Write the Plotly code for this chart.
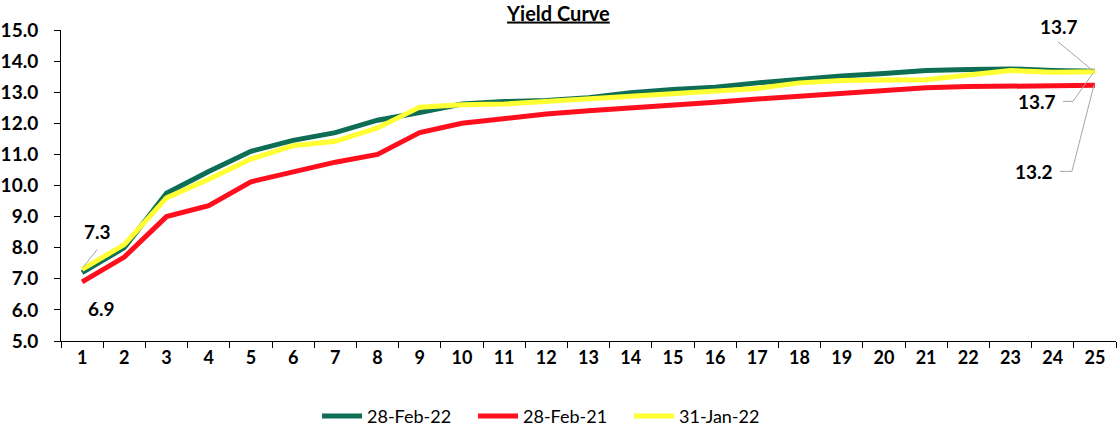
import plotly.graph_objects as go

tenor = [str(i) for i in range(1, 26)]
feb22 = [7.2, 8.0, 9.75, 10.45, 11.1, 11.45, 11.7, 12.1, 12.35, 12.62, 12.7, 12.73, 12.82, 12.98, 13.09,
         13.16, 13.3, 13.43, 13.52, 13.6, 13.7, 13.73, 13.75, 13.7, 13.67]
feb21 = [6.9, 7.7, 9.0, 9.35, 10.12, 10.45, 10.75, 11.0, 11.7, 12.0, 12.15, 12.3, 12.4, 12.48, 12.58,
         12.68, 12.78, 12.87, 12.98, 13.08, 13.14, 13.18, 13.2, 13.22, 13.22]
jan22 = [7.3, 8.1, 9.6, 10.2, 10.85, 11.28, 11.42, 11.85, 12.52, 12.6, 12.62, 12.7, 12.8, 12.9, 12.97,
         13.02, 13.12, 13.3, 13.38, 13.39, 13.4, 13.55, 13.7, 13.64, 13.66]
yticks = [5.0, 6.0, 7.0, 8.0, 9.0, 10.0, 11.0, 12.0, 13.0, 14.0, 15.0]

FONT = "Lato"
fig = go.Figure()
fig.add_trace(go.Scatter(x=tenor, y=feb22, name="28-Feb-22", mode="lines",
                         line=dict(color="#0E6E55", width=5)))
fig.add_trace(go.Scatter(x=tenor, y=feb21, name="28-Feb-21", mode="lines",
                         line=dict(color="#FF0F1E", width=5)))
fig.add_trace(go.Scatter(x=tenor, y=jan22, name="31-Jan-22", mode="lines",
                         line=dict(color="#FFFF33", width=5)))

first, last = 0, len(tenor) - 1  # category indices
ann_font = dict(family=FONT, size=19, color="black")
# (index, value, x-shift, y-shift, leader path in pixels relative to the point, y up)
labels = [
    (first, jan22[0], 15, 38, "M 1,2 L 15,20"),
    (first, feb21[0], 19, -27, None),
    (last, jan22[-1], -36, 45, "M -37,30 L -2,1"),
    (last, feb22[-1], -58, -30, "M -32,-30 L -22,-30 L -2,-2"),
    (last, feb21[-1], -61, -86, "M -35,-86 L -23,-86 L -1,0"),
]
for idx, val, xs, ys, path in labels:
    fig.add_annotation(x=idx, y=val, text="<b>%.1f</b>" % val, showarrow=False,
                       xshift=xs, yshift=ys, font=ann_font)
    if path:
        fig.add_shape(type="path", xref="x", yref="y", xsizemode="pixel", ysizemode="pixel",
                      xanchor=idx, yanchor=val, path=path,
                      line=dict(color="#A6A6A6", width=1))

fig.update_layout(
    width=1118, height=437,
    margin=dict(l=61, r=2, t=30, b=84),
    paper_bgcolor="white", plot_bgcolor="white",
    title=dict(text="<b><u>Yield Curve</u></b>", x=0.4995, xanchor="center", y=0.969, yanchor="middle",
               font=dict(family=FONT, size=20, color="black")),
    font=dict(family=FONT, color="black"),
    showlegend=True,
    legend=dict(orientation="h", x=0.2427, xanchor="left", y=-0.183, yanchor="top",
                font=dict(family=FONT, size=18, color="black"), itemwidth=40,
                entrywidth=101, entrywidthmode="pixels", traceorder="normal"),
    xaxis=dict(type="category", range=[-0.5, 24.5], autorange=False, showline=True,
               linecolor="black", linewidth=1,
               ticks="outside", tickson="boundaries", ticklen=6, tickcolor="black",
               tickfont=dict(family=FONT, size=18, color="black", weight="bold"),
               showgrid=False, zeroline=False),
    yaxis=dict(range=[5, 15], tickvals=yticks, ticktext=["%.1f" % v for v in yticks],
               showline=True, linecolor="black", linewidth=1, ticks="outside", ticklen=6,
               tickcolor="black", showgrid=False, zeroline=False, ticklabelstandoff=12,
               tickfont=dict(family=FONT, size=19, color="black", weight="bold")),
)
page_css = (
    "var h=document.documentElement,b=document.body;"
    "[h,b].forEach(function(e){e.style.margin='0';e.style.padding='0';"
    "e.style.overflow='hidden';e.style.height='437px';});"
    "b.style.fontSize='0';b.style.lineHeight='0';"
)
fig.write_html("out.html", config={"displayModeBar": False}, post_script=page_css)
